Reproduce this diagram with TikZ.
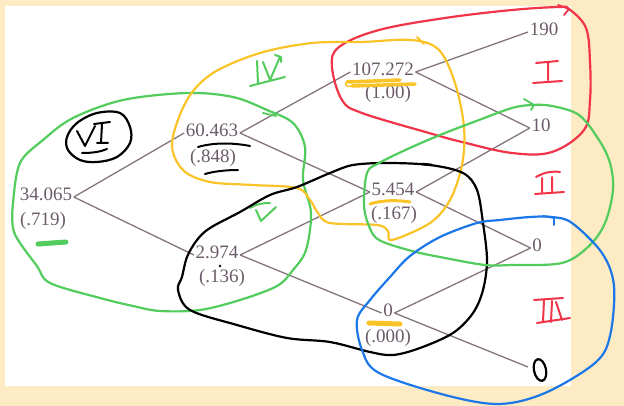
\documentclass[tikz,border=0pt]{standalone}
\usepackage{fontspec}
\setmainfont{Liberation Serif}
\definecolor{cream}{RGB}{253,235,196}
\definecolor{treetext}{RGB}{108,92,106}
\definecolor{treeline}{RGB}{132,116,126}
\definecolor{pgreen}{RGB}{82,204,92}
\definecolor{pred}{RGB}{242,52,72}
\definecolor{pyellow}{RGB}{250,196,40}
\definecolor{pblue}{RGB}{28,120,232}
\begin{document}
\begin{tikzpicture}[x=1pt,y=-1pt,
  val/.style={text=treetext, font=\fontsize{19}{19}\selectfont, inner sep=1.5pt, text height=0.66em, text depth=0pt},
  prob/.style={text=treetext, font=\fontsize{19}{19}\selectfont, inner sep=0pt},
  branch/.style={draw=treeline, line width=1.3pt},
  pen/.style={line width=2.2pt, line cap=round, line join=round},
  blob/.style={line width=5pt, line cap=round},
]
\fill[cream] (0,0) rectangle (624,406);
\fill[white] (5,6) rectangle (571,386);
\useasboundingbox (0,0) rectangle (624,406);

% tree values
\node[val] (n1) at (46,197) {34.065};
\node[prob] (p1) at (43,221) {(.719)};
\node[val] (n2) at (212,133) {60.463};
\node[prob] (p2) at (213,158) {(.848)};
\node[val] (n3) at (217,255) {2.974};
\node[prob] (p3) at (222,278) {(.136)};
\node[val] (n4) at (383,72) {107.272};
\node[prob] (p4) at (388,94) {(1.00)};
\node[val] (n5) at (393,192) {5.454};
\node[prob] (p5) at (394,215) {(.167)};
\node[val] (n6) at (388,313) {0};
\node[prob] (p6) at (388,338) {(.000)};
\node[val] (t1) at (544,32) {190};
\node[val] (t2) at (541,128) {10};
\node[val] (t3) at (537,248) {0};
\coordinate (t4) at (528,367);

% branches
\draw[branch] (n1.east) -- (n2.west);
\draw[branch] (n1.east) -- (n3.west);
\draw[branch] (n2.east) -- (n4.west);
\draw[branch] (n2.east) -- (n5.west);
\draw[branch] (n3.east) -- (n5.west);
\draw[branch] (n3.east) -- (n6.west);
\draw[branch] (n4.east) -- (t1.west);
\draw[branch] (n4.east) -- (t2.west);
\draw[branch] (n5.east) -- (t2.west);
\draw[branch] (n5.east) -- (t3.west);
\draw[branch] (n6.east) -- (t3.west);
\draw[branch] (n6.east) -- (t4);

% ---- hand annotations ----
% red loop I
\draw[pen,pred] plot[smooth cycle, tension=0.6] coordinates {(569,9) (586,28) (590,62) (590,100) (584,130) (552,152) (512,153) (462,142) (429,133) (362,113) (342,100) (332,67) (339,47) (379,30) (445,18) (512,10) (559,7)};
\draw[pen,pred,line width=1.8pt] (558,5) -- (569,9) -- (564,15);
% red numerals
\draw[pen,pred,line width=2pt] (536,63) -- (558,61) (548,63) -- (548,80) (533,83) -- (562,81);
\draw[pen,pred,line width=2pt] (536,177) .. controls (545,172) and (552,171) .. (560,172) (542,178) -- (542,192) (552,177) -- (552,191) (535,194) -- (564,192);
\draw[pen,pred,line width=2pt] (534,300) -- (563,298) (544,300) -- (543,322) (552,301) -- (551,322) (556,302) -- (562,320) (537,323) -- (570,318);

% green loop (left)
\draw[pen,pgreen] plot[smooth cycle, tension=0.55] coordinates {(13,203) (20,163) (43,140) (73,118) (123,100) (187,93) (233,97) (267,110) (293,123) (305,147) (303,180) (311,213) (306,250) (293,270) (277,286) (240,300) (200,310) (160,311) (133,306) (100,298) (50,283) (37,266) (20,243) (13,228)};
\draw[pen,pgreen,line width=1.8pt] (263,113) -- (276,116);
\draw[pgreen,blob] (38,244) -- (66,242);

% green numerals IV and V
\draw[pen,pgreen,line width=2pt] (257,61) -- (258,83) (263,62) -- (270,80) -- (280,57) (275,55) -- (281,57) -- (281,62) (250,86) -- (285,77);
\draw[pen,pgreen,line width=2pt] (250,208) .. controls (256,204) and (263,203) .. (270,203) (256,210) -- (261,221) -- (276,207);

% yellow loop IV
\draw[pen,pyellow] plot[smooth cycle, tension=0.55] coordinates {(172,143) (187,100) (213,73) (260,53) (312,43) (362,42) (412,40) (439,50) (455,83) (464,127) (462,165) (450,200) (430,223) (392,240) (388,231) (377,225) (330,223) (318,213) (310,200) (297,188) (253,185) (210,182) (183,170)};
\draw[pen,pyellow,line width=1.8pt] (417,37) -- (424,44);
\draw[pyellow,line width=3.5pt,line cap=round] (347,82) -- (400,80) (352,86) -- (415,84);
\draw[pyellow,line width=1.5pt] (347,82) .. controls (343,84) and (347,88) .. (352,86);
\draw[pyellow,line width=3pt,line cap=round] (370,204) .. controls (382,200) and (398,200) .. (410,202);
\draw[pyellow,blob] (369,323) -- (400,324);

% black loop V
\draw[pen,black] plot[smooth cycle, tension=0.55] coordinates {(330,173) (297,187) (270,195) (240,212) (210,228) (197,240) (187,257) (182,277) (178,290) (190,310) (237,325) (287,338) (330,342) (370,352) (393,355) (420,348) (453,333) (473,313) (483,290) (487,260) (483,223) (477,190) (463,173) (430,165) (387,163) (353,165)};
\draw[black,line width=2.5pt] (422,164) -- (432,165);
\fill[black] (220,266) circle (1.3pt);
% black underlines
\draw[pen,black,line width=2pt] (198,147) .. controls (215,142) and (235,143) .. (250,146);
\draw[pen,black,line width=2pt] (205,174) .. controls (215,171) and (228,170) .. (238,170);

% black VI circle
\draw[pen,black] plot[smooth cycle, tension=0.6] coordinates {(120,113) (130,127) (130,143) (117,157) (97,162) (80,160) (68,150) (67,137) (77,123) (97,113)};
\draw[pen,black,line width=2pt] (77,131) -- (85,146) -- (95,126) (94,124) -- (110,122) (102,124) -- (101,143) (97,143) -- (108,143) (82,153) .. controls (92,153) and (100,152) .. (107,149);

% green loop II
\draw[pen,pgreen] plot[smooth cycle, tension=0.55] coordinates {(532,105) (552,106) (579,115) (599,140) (610,163) (613,190) (605,223) (589,246) (562,263) (512,265) (485,265) (445,258) (412,251) (379,240) (369,226) (364,205) (367,173) (379,163) (412,147) (445,133) (479,120) (512,108)};
\draw[pen,pgreen,line width=1.8pt] (524,99) -- (534,105) -- (531,110);

% blue loop III
\draw[pen,pblue] plot[smooth cycle, tension=0.55] coordinates {(552,217) (572,223) (602,253) (614,286) (610,336) (595,363) (545,393) (499,404) (445,395) (379,373) (362,350) (357,320) (370,300) (390,277) (410,256) (440,237) (477,223) (500,220) (530,217)};
\draw[pen,pblue,line width=1.8pt] (543,216) -- (554,218) -- (554,225);

% black handwritten 0
\draw[black,line width=2.2pt,rotate around={12:(540,370)}] (540,370) ellipse (6pt and 11pt);
\end{tikzpicture}
\end{document}
